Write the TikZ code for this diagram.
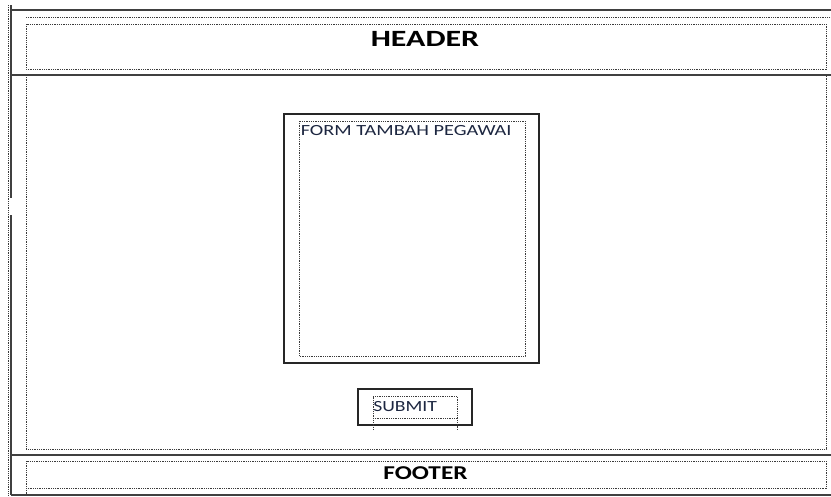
\documentclass[tikz,border=0pt]{standalone}
\usepackage{fontspec}
\setmainfont{Carlito}
\definecolor{linegray}{HTML}{404040}
\definecolor{dotgray}{HTML}{3A3A3A}
\definecolor{navy}{HTML}{1C2640}
\tikzset{
  solidline/.style={draw=linegray, line width=1.6pt},
  dotline/.style={draw=dotgray, line width=1pt, dash pattern=on 1pt off 0.8pt},
  boxline/.style={draw=black!85, line width=1.3pt},
  lbl/.style={inner sep=0pt, anchor=base},
}
\begin{document}
\begin{tikzpicture}[x=1pt,y=-1pt]
\useasboundingbox (0,0) rectangle (831,496);
% frame lines
\draw[solidline] (11,10) -- (831,10);
\draw[solidline] (11,75) -- (831,75);
\draw[solidline] (11,455) -- (831,455);
\draw[solidline] (11,495) -- (831,495);
\draw[solidline] (11,5) -- (11,198);
\draw[solidline] (11,215) -- (11,495);
\draw[dotline] (8.5,5) -- (8.5,495);
\draw[dotline] (26,17) -- (831,17);
% header
\draw[dotline] (26,24) rectangle (826,69);
\node[lbl, xscale=1.37] (header) at (425,46.7) {\fontsize{23.3}{26}\selectfont\bfseries HEADER};
% content area
\draw[dotline] (26,75) -- (26,449) -- (826,449) -- (826,75);
% form
\draw[boxline] (284,114) rectangle (539,363);
\draw[dotline] (299,121) rectangle (525,356);
\node[lbl, anchor=base west, xscale=1.31, text=navy] (form) at (300.5,135.3) {\fontsize{15.5}{18}\selectfont FORM TAMBAH PEGAWAI};
% submit
\draw[boxline] (358,389) rectangle (472,425);
\draw[dotline] (373,430) -- (373,396) -- (457,396) -- (457,430);
\draw[dotline] (373,418) -- (457,418);
\node[lbl, anchor=base west, xscale=1.27, text=navy] (submit) at (373,411) {\fontsize{15.5}{18}\selectfont SUBMIT};
% footer
\draw[dotline] (26,461) rectangle (826,488);
\draw[dotline] (26,488) -- (26,495);
\node[lbl, xscale=1.29] (footer) at (425.5,479.3) {\fontsize{19.6}{22}\selectfont\bfseries FOOTER};
\end{tikzpicture}
\end{document}
